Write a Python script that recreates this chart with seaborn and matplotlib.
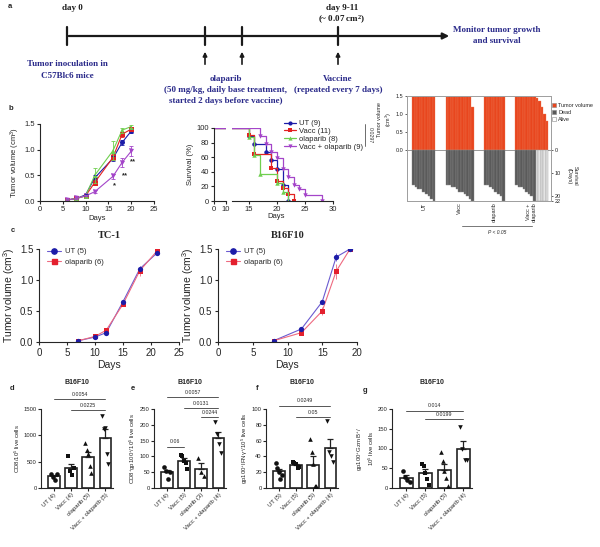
import numpy as np
import pandas as pd
import seaborn as sns
import matplotlib.pyplot as plt
from matplotlib.lines import Line2D
from matplotlib.patches import Patch

# ---------------- data ----------------
# b: tumour growth, B16F10
b_days = [6, 8, 10, 12, 16, 18, 20]
b_groups = ["UT", "Vacc", "olaparib", "Vacc + olaparib"]
b_mean = {
    "UT": [0.02, 0.05, 0.12, 0.45, 0.83, 1.14, 1.36],
    "Vacc": [0.02, 0.05, 0.10, 0.36, 0.85, 1.30, 1.40],
    "olaparib": [0.02, 0.05, 0.10, 0.50, 0.98, 1.38, 1.45],
    "Vacc + olaparib": [0.02, 0.05, 0.10, 0.18, 0.48, 0.75, 0.97],
}
b_sem = {
    "UT": [0.01, 0.01, 0.02, 0.05, 0.05, 0.04, 0.04],
    "Vacc": [0.01, 0.01, 0.02, 0.04, 0.06, 0.05, 0.04],
    "olaparib": [0.01, 0.01, 0.02, 0.15, 0.18, 0.05, 0.04],
    "Vacc + olaparib": [0.01, 0.01, 0.01, 0.03, 0.05, 0.09, 0.10],
}

# b: survival (event day, % surviving after event)
surv_n = {"UT": 9, "Vacc": 11, "olaparib": 8, "Vacc + olaparib": 9}
surv_t = {
    "UT": [15, 16, 18, 19, 20, 21, 22],
    "Vacc": [15, 16, 19, 20, 21, 22, 23],
    "olaparib": [15, 16, 17, 20, 21, 22],
    "Vacc + olaparib": [17, 18, 19, 20, 21, 22, 23, 24, 25, 28],
}
surv_p = {
    "UT": [89, 78, 67, 56, 44, 22, 0],
    "Vacc": [91, 64, 45, 27, 18, 9, 0],
    "olaparib": [87.5, 62.5, 37.5, 25, 12.5, 0],
    "Vacc + olaparib": [89, 78, 67, 59, 44, 33, 22, 17, 8, 0],
}

# b: swimmer plot
sw_groups = ["UT", "Vacc", "olaparib", "Vacc +\nolaparib"]
sw_vol = [
    [1.5, 1.5, 1.5, 1.5, 1.5, 1.5, 1.5, 1.5, 1.5],
    [1.5, 1.5, 1.5, 1.5, 1.5, 1.5, 1.5, 1.5, 1.5, 1.5, 1.2],
    [1.5, 1.5, 1.5, 1.5, 1.5, 1.5, 1.5, 1.5],
    [1.5, 1.5, 1.5, 1.5, 1.5, 1.5, 1.5, 1.5, 1.45, 1.35, 1.2, 1.0, 0.8],
]
sw_days = [
    [15, 16, 17, 17, 18, 19, 20, 21, 22],
    [15, 15, 16, 16, 17, 18, 18, 19, 20, 21, 22],
    [15, 15, 16, 17, 18, 19, 20, 22],
    [15, 16, 16, 17, 18, 19, 20, 22, 22, 22, 22, 22, 22],
]
sw_alive = [
    [0, 0, 0, 0, 0, 0, 0, 0, 0],
    [0, 0, 0, 0, 0, 0, 0, 0, 0, 0, 0],
    [0, 0, 0, 0, 0, 0, 0, 0],
    [0, 0, 0, 0, 0, 0, 0, 0, 1, 1, 1, 1, 1],
]

# c: TC-1 and B16F10 growth
tc1_days = [7, 10, 12, 15, 18, 21]
tc1_ut = [0.02, 0.08, 0.15, 0.65, 1.18, 1.43]
tc1_ut_sem = [0.01, 0.01, 0.02, 0.03, 0.05, 0.03]
tc1_ola = [0.02, 0.09, 0.19, 0.61, 1.15, 1.46]
tc1_ola_sem = [0.01, 0.01, 0.02, 0.02, 0.08, 0.03]
b16_days = [8, 12, 15, 17, 19]
b16_ut = [0.02, 0.21, 0.65, 1.37, 1.50]
b16_ut_sem = [0.01, 0.02, 0.03, 0.07, 0.01]
b16_ola = [0.02, 0.15, 0.50, 1.14, 1.50]
b16_ola_sem = [0.01, 0.02, 0.06, 0.12, 0.01]

# d-g: flow cytometry (individual mice)
d_labels = ["UT (4)", "Vacc (4)", "olaparib (5)", "Vacc + olaparib (5)"]
d_vals = [[260, 200, 160, 260], [600, 320, 250, 380],
          [860, 720, 640, 420, 280], [1370, 1120, 1130, 640, 460]]
e_labels = ["UT (4)", "Vacc (5)", "olaparib (3)", "Vacc + olaparib (4)"]
e_vals = [[65, 55, 28, 50], [105, 100, 85, 80, 60], [96, 51, 37], [208, 172, 140, 110]]
f_labels = ["UT (5)", "Vacc (5)", "olaparib (5)", "Vacc + olaparib (4)"]
f_vals = [[32, 25, 20, 12, 17], [33, 32, 30, 25, 26], [62, 45, 30, 3, 3], [85, 45, 40, 33]]
g_labels = ["UT (4)", "Vacc (5)", "olaparib (5)", "Vacc + olaparib (4)"]
g_vals = [[42, 28, 20, 15], [62, 55, 38, 22, 8], [90, 68, 42, 25, 5], [155, 100, 72, 70]]

# significance brackets: (from group, to group, height, p text)
d_sig = [(0, 3, 1690, "0.0054"), (1, 3, 1480, "0.0225")]
e_sig = [(0, 3, 288, "0.0057"), (1, 3, 253, "0.0131"), (2, 3, 224, "0.0244"), (0, 1, 131, "0.06")]
f_sig = [(0, 3, 104, "0.0249"), (1, 3, 90, "0.05")]
g_sig = [(0, 3, 196, "0.014"), (1, 3, 175, "0.0199")]

# ---------------- style ----------------
sns.set_theme(style="ticks")
plt.rcParams["font.family"] = ["Liberation Sans", "DejaVu Sans"]
plt.rcParams["mathtext.default"] = "regular"
plt.rcParams["axes.linewidth"] = 0.8
plt.rcParams["xtick.major.width"] = 0.8
plt.rcParams["ytick.major.width"] = 0.8
plt.rcParams["xtick.major.size"] = 2
plt.rcParams["ytick.major.size"] = 2
plt.rcParams["xtick.major.pad"] = 1.5
plt.rcParams["ytick.major.pad"] = 1.5

grp_col = {"UT": "#1c1ca8", "Vacc": "#e32222", "olaparib": "#6fcf4f", "Vacc + olaparib": "#a445c9"}
grp_mk = {"UT": "o", "Vacc": "s", "olaparib": "^", "Vacc + olaparib": "v"}
NAVY = "#2a2a8a"
SERIF = ["Liberation Serif", "DejaVu Serif"]

W, H = 600, 547
fig = plt.figure(figsize=(6, 5.47), dpi=100)


def add_ax(x0, y0, x1, y1):
    return fig.add_axes([x0 / W, 1 - y1 / H, (x1 - x0) / W, (y1 - y0) / H])


def fig_text(x, y, s, **kw):
    fig.text(x / W, 1 - y / H, s, **kw)


# ---------------- a: timeline ----------------
ax_t = fig.add_axes([0, 0, 1, 1], zorder=-1)
ax_t.set_xlim(0, W)
ax_t.set_ylim(H, 0)
ax_t.axis("off")
tl_y = 36
ax_t.annotate("", xy=(452, tl_y), xytext=(66, tl_y),
              arrowprops=dict(arrowstyle="-|>", lw=1.6, color="k", mutation_scale=9))
for xt in [67, 205, 242, 338]:
    ax_t.plot([xt, xt], [27, 45], color="k", lw=1.6)
for xt in [205, 242, 338]:
    ax_t.annotate("", xy=(xt, 49), xytext=(xt, 67),
                  arrowprops=dict(arrowstyle="-|>", lw=1.2, color="k", mutation_scale=6))
tfont = dict(family=SERIF, fontweight="bold", fontsize=6.5, ha="center", va="center")
ax_t.text(72, 8, "day 0", color="k", **tfont)
ax_t.text(342, 8, "day 9-11", color="k", **tfont)
ax_t.text(342, 20, "(~ 0.07 cm$^2$)", color="k", **tfont)
ax_t.text(497, 30, "Monitor tumor growth", color=NAVY, **tfont)
ax_t.text(497, 41, "and survival", color=NAVY, **tfont)
ax_t.text(67, 64, "Tumor inoculation in", color=NAVY, **tfont)
ax_t.text(67, 76, "C57Blc6 mice", color=NAVY, **tfont)
ax_t.text(226, 79, "olaparib", color=NAVY, **tfont)
ax_t.text(226, 90, "(50 mg/kg, daily base treatment,", color=NAVY, **tfont)
ax_t.text(226, 101, "started 2 days before vaccine)", color=NAVY, **tfont)
ax_t.text(338, 79, "Vaccine", color=NAVY, **tfont)
ax_t.text(338, 90, "(repeated every 7 days)", color=NAVY, **tfont)

for lbl, (x, y) in {"a": (10, 6), "b": (11, 108), "c": (13, 230), "d": (12, 389),
                    "e": (133, 389), "f": (257, 389), "g": (365, 391)}.items():
    fig_text(x, y, lbl, fontsize=5.5, fontweight="bold", ha="center", va="center")

# ---------------- b: growth ----------------
ax = add_ax(40, 124, 154, 201)
rows = []
for g in b_groups:
    for d, m in zip(b_days, b_mean[g]):
        rows.append({"day": d, "vol": m, "group": g})
bdf = pd.DataFrame(rows)
sns.lineplot(data=bdf, x="day", y="vol", hue="group", style="group", palette=grp_col,
             markers=grp_mk, dashes=False, markersize=3.6, markeredgewidth=0, lw=0.8,
             legend=False, ax=ax)
for g in b_groups:
    ax.errorbar(b_days, b_mean[g], yerr=b_sem[g], fmt="none", ecolor=grp_col[g],
                elinewidth=0.6, capsize=1.2, capthick=0.6)
ax.set_xlim(0, 25)
ax.set_ylim(0, 1.5)
ax.set_xticks([0, 5, 10, 15, 20, 25])
ax.set_yticks([0, 0.5, 1.0, 1.5])
ax.set_yticklabels(["0.0", "0.5", "1.0", "1.5"])
ax.tick_params(labelsize=5.5)
ax.set_xlabel("Days", fontsize=5.5, labelpad=1.5)
ax.set_ylabel("Tumor volume (cm$^3$)", fontsize=5.5, labelpad=2)
for d, y, s in [(16.4, 0.30, "*"), (18.6, 0.50, "**"), (20.5, 0.76, "**")]:
    ax.text(d, y, s, fontsize=5.5, fontweight="bold", ha="center", va="center")
sns.despine(ax=ax)

# ---------------- b: survival (broken x axis) ----------------
ax_l = add_ax(214, 128, 226, 201)
ax_r = add_ax(232, 128, 333, 201)
for a_ in (ax_l, ax_r):
    for g in b_groups:
        xs = [0] + surv_t[g]
        ys = [100] + surv_p[g]
        a_.step(xs, ys, where="post", color=grp_col[g], lw=0.9)
        a_.plot(surv_t[g], surv_p[g], ls="none", marker=grp_mk[g], color=grp_col[g],
                ms=3.2, mew=0)
    a_.set_ylim(0, 100)
    a_.tick_params(labelsize=5.5)
ax_l.set_xlim(0, 10)
ax_l.set_xticks([0, 10])
ax_l.set_yticks([0, 20, 40, 60, 80, 100])
ax_l.set_ylabel("Survival (%)", fontsize=5.5, labelpad=2)
sns.despine(ax=ax_l)
ax_r.set_xlim(12, 30)
ax_r.set_xticks([15, 20, 25, 30])
ax_r.set_yticks([])
sns.despine(ax=ax_r, left=True)
fig_text(276, 217, "Days", fontsize=5.5, ha="center", va="center")
handles = [Line2D([], [], color=grp_col[g], marker=grp_mk[g], ms=3, mew=0, lw=0.9)
           for g in b_groups]
leg_labels = [f"{g} ({surv_n[g]})" for g in b_groups]
ax_r.legend(handles, leg_labels, loc="upper left", bbox_to_anchor=(284 / W, 1 - 120 / H),
            bbox_transform=fig.transFigure, frameon=False, fontsize=5.5, handlelength=1.6,
            handletextpad=0.4, labelspacing=0.05, borderaxespad=0, borderpad=0)
fig.add_artist(Line2D([365 / W, 365 / W], [1 - 124 / H, 1 - 146 / H], color="#555", lw=0.6))
fig_text(370, 135, "0.0297", fontsize=3.8, rotation=-90, ha="center", va="center", color="#333")

# ---------------- b: swimmer ----------------
ORANGE, DEAD, ALIVE = "#e8461e", "#5a5a5a", "#e4e4e4"
ax_s = add_ax(407, 96, 551, 201)
ax_s2 = ax_s.twinx()
pos = []
start = 0
for n in [len(v) for v in sw_vol]:
    pos.append(np.arange(start, start + n))
    start += n + 4
for xs, vol, days, alive in zip(pos, sw_vol, sw_days, sw_alive):
    ax_s.bar(xs, vol, width=1.0, color=ORANGE, edgecolor="#ee7a55", linewidth=0.25)
    cols = [ALIVE if a else DEAD for a in alive]
    edges = ["#9a9a9a" if a else "#8a8a8a" for a in alive]
    ax_s2.bar(xs, days, width=1.0, color=cols, edgecolor=edges, linewidth=0.3)
ax_s.set_xlim(-2.5, pos[-1][-1] + 1.5)
ax_s.set_ylim(-1.5 * 51 / 53, 1.5)
ax_s2.set_ylim(22, -22 * 53 / 51)
ax_s.axhline(0, color="#8a8a8a", lw=0.6)
ax_s.set_yticks([0, 0.5, 1.0, 1.5])
ax_s.set_yticklabels(["0.0", "0.5", "1.0", "1.5"])
ax_s2.set_yticks([0, 10, 20, 22])
ax_s.set_xticks([p.mean() for p in pos])
ax_s.set_xticklabels(sw_groups, rotation=90, ha="center", va="top")
for a_ in (ax_s, ax_s2):
    a_.tick_params(labelsize=4, length=1.5, width=0.5, pad=1)
    for sp in a_.spines.values():
        sp.set_color("#a0a0a0")
        sp.set_linewidth(0.7)
ax_s.tick_params(axis="x", length=0)
ax_s.set_ylabel("Tumor volume\n(cm$^3$)", fontsize=4, labelpad=1)
ax_s.yaxis.set_label_coords(-0.09, 0.78)
ax_s2.set_ylabel("Survival\n(Days)", fontsize=4, labelpad=1, rotation=-90, va="bottom")
ax_s2.yaxis.set_label_coords(1.11, 0.24)
ax_s.legend([Patch(fc=ORANGE, ec="#888", lw=0.4), Patch(fc=DEAD, ec="#888", lw=0.4),
             Patch(fc="white", ec="#888", lw=0.4)],
            ["Tumor volume", "Dead", "Alive"], loc="upper left",
            bbox_to_anchor=(552 / W, 1 - 103 / H), bbox_transform=fig.transFigure,
            frameon=False, fontsize=4, handlelength=0.8, handleheight=0.8,
            handletextpad=0.3, labelspacing=0.35, borderaxespad=0, borderpad=0)
fig.add_artist(Line2D([462 / W, 532 / W], [1 - 226 / H, 1 - 226 / H], color="#777", lw=0.7))
fig_text(497, 232, "P < 0.05", fontsize=3.5, ha="center", va="center", style="italic")

# ---------------- c ----------------
c_sets = [
    ("TC-1", (39, 179), 25, [0, 5, 10, 15, 20, 25], tc1_days,
     tc1_ut, tc1_ut_sem, tc1_ola, tc1_ola_sem),
    ("B16F10", (218, 357), 20, [0, 5, 10, 15, 20], b16_days,
     b16_ut, b16_ut_sem, b16_ola, b16_ola_sem),
]
C_UT, C_OLA = "#1c1ca8", "#e3202e"
for title, (x0, x1), xmax, xt, days, ut, ut_s, ola, ola_s in c_sets:
    ax = add_ax(x0, 249, x1, 342)
    cdf = pd.DataFrame({"day": days * 2, "vol": ut + ola,
                        "group": ["UT (5)"] * len(days) + ["olaparib (6)"] * len(days)})
    sns.lineplot(data=cdf, x="day", y="vol", hue="group", style="group",
                 palette={"UT (5)": "#6a5ad0", "olaparib (6)": "#ee6a80"},
                 markers={"UT (5)": "o", "olaparib (6)": "s"}, dashes=False,
                 markersize=0, lw=0.8, legend=False, ax=ax)
    ax.errorbar(days, ola, yerr=ola_s, fmt="s", color=C_OLA, ms=3.6, mew=0,
                elinewidth=0.6, capsize=1.5, capthick=0.6, ecolor="#ee6a80")
    ax.errorbar(days, ut, yerr=ut_s, fmt="o", color=C_UT, ms=3.8, mew=0,
                elinewidth=0.6, capsize=1.5, capthick=0.6, ecolor="#6a5ad0")
    ax.set_xlim(0, xmax)
    ax.set_ylim(0, 1.5)
    ax.set_xticks(xt)
    ax.set_yticks([0, 0.5, 1.0, 1.5])
    ax.set_yticklabels(["0.0", "0.5", "1.0", "1.5"])
    ax.tick_params(labelsize=7, length=2.5, pad=1.5)
    ax.set_xlabel("Days", fontsize=7.5, labelpad=2)
    ax.set_ylabel("Tumor volume (cm$^3$)", fontsize=7.5, labelpad=2)
    ax.set_title(title, fontsize=7.5, fontweight="bold", family=SERIF, pad=8)
    sns.despine(ax=ax)
    hs = [Line2D([], [], color="#6a5ad0", marker="o", mfc=C_UT, mec=C_UT, ms=3.8, lw=0.8),
          Line2D([], [], color="#ee6a80", marker="s", mfc=C_OLA, mec=C_OLA, ms=3.6, lw=0.8)]
    ax.legend(hs, ["UT (5)", "olaparib (6)"], loc="upper left", bbox_to_anchor=(0.06, 1.01),
              frameon=False, fontsize=5.5, handlelength=1.8, handletextpad=0.5,
              labelspacing=0.4, borderaxespad=0, borderpad=0)

# ---------------- d-g ----------------
panels = [
    ((41, 113), d_labels, d_vals, 1500, [0, 500, 1000, 1500], "CD8/10$^5$ live cells", d_sig, 1.33),
    ((154, 226), e_labels, e_vals, 250, [0, 50, 100, 150, 200, 250],
     "CD8$^{+}$gp100$^{+}$/10$^{5}$ live cells", e_sig, 1.33),
    ((266, 338), f_labels, f_vals, 100, [0, 20, 40, 60, 80, 100],
     "gp100$^{+}$IFN$\\gamma^{+}$/10$^{5}$ live cells", f_sig, 1.34),
    ((392, 472), g_labels, g_vals, 200, [0, 50, 100, 150, 200],
     "gp100$^{+}$Gzm B$^{+}$/\n10$^{5}$ live cells", g_sig, 1.34),
]
pt_mk = ["o", "s", "^", "v"]
for (x0, x1), labels, vals, ymax, yt, ylab, sig, ty in panels:
    ax = add_ax(x0, 409, x1, 488)
    long = pd.DataFrame([{"group": labels[i], "val": v} for i, vs in enumerate(vals) for v in vs])
    sns.barplot(data=long, x="group", y="val", order=labels, errorbar=None, color="white",
                edgecolor="#222", linewidth=1.2, width=0.66, ax=ax)
    for i, vs in enumerate(vals):
        vs = np.asarray(vs, float)
        m = vs.mean()
        se = vs.std(ddof=1) / np.sqrt(len(vs))
        ax.errorbar([i], [m], yerr=[[0], [se]], fmt="none", ecolor="#222",
                    elinewidth=0.9, capsize=2, capthick=0.9)
        offs = np.linspace(-0.18, 0.18, len(vs))
        ax.scatter(i + offs, vs, marker=pt_mk[i], s=11, color="#111", lw=0, zorder=4)
    ax.set_xlim(-0.75, 3.45)
    ax.set_ylim(0, ymax)
    ax.set_yticks(yt)
    ax.tick_params(labelsize=4.2, length=2, pad=1)
    ax.set_xticks(range(4))
    ax.set_xticklabels(labels, rotation=45, ha="right", rotation_mode="anchor")
    ax.tick_params(axis="x", labelsize=4.3)
    ax.set_xlabel("")
    ax.set_ylabel(ylab, fontsize=4.3, labelpad=1.5)
    ax.text(0.5, ty, "B16F10", transform=ax.transAxes, fontsize=5, fontweight="bold",
            ha="center", va="center")
    for a0, a1, h, p in sig:
        ax.plot([a0, a1], [h, h], color="#555", lw=0.7, clip_on=False)
        ax.text((a0 + a1) / 2, h + ymax * 0.03, p, fontsize=3.8, ha="center", va="bottom")
    sns.despine(ax=ax)

fig.savefig("out.png", dpi=100)
